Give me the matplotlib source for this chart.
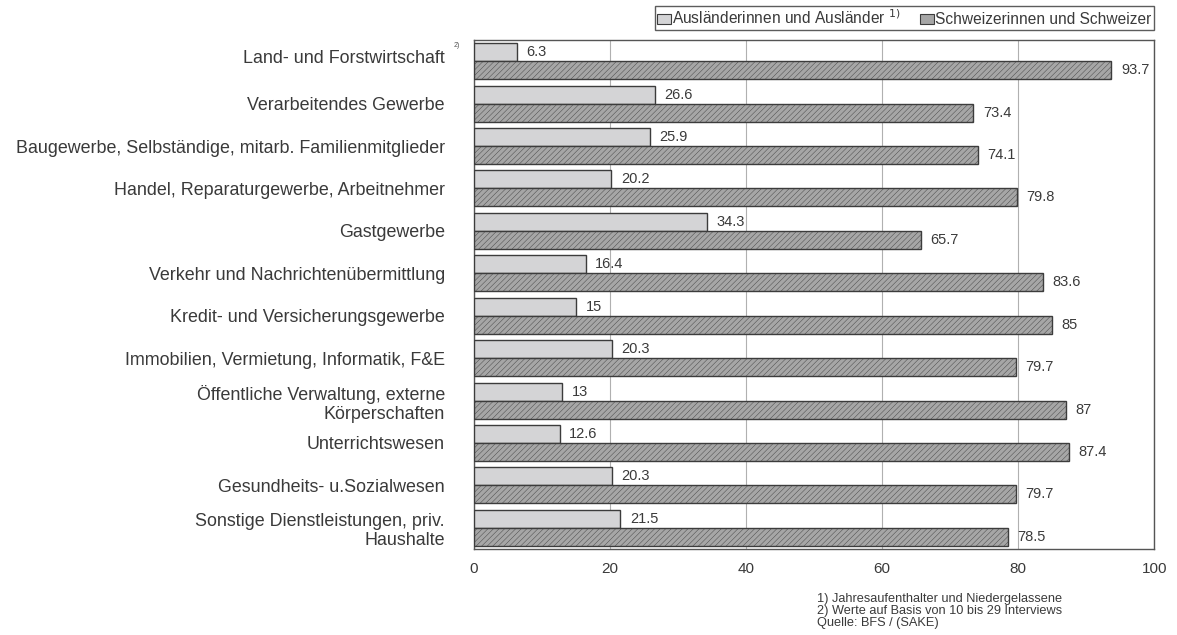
import numpy as np
import matplotlib
matplotlib.use("Agg")
import matplotlib.pyplot as plt
import matplotlib.transforms as mtransforms
from matplotlib.patches import Patch

plt.rcParams["font.family"] = ["Liberation Sans", "DejaVu Sans"]
plt.rcParams["hatch.color"] = "#9a9a9a"
plt.rcParams["hatch.linewidth"] = 0.3

categories = [
    "Land- und Forstwirtschaft",
    "Verarbeitendes Gewerbe",
    "Baugewerbe, Selbständige, mitarb. Familienmitglieder",
    "Handel, Reparaturgewerbe, Arbeitnehmer",
    "Gastgewerbe",
    "Verkehr und Nachrichtenübermittlung",
    "Kredit- und Versicherungsgewerbe",
    "Immobilien, Vermietung, Informatik, F&E",
    "Öffentliche Verwaltung, externe\nKörperschaften",
    "Unterrichtswesen",
    "Gesundheits- u.Sozialwesen",
    "Sonstige Dienstleistungen, priv.\nHaushalte",
]
auslaender = [6.3, 26.6, 25.9, 20.2, 34.3, 16.4, 15, 20.3, 13, 12.6, 20.3, 21.5]
schweizer = [93.7, 73.4, 74.1, 79.8, 65.7, 83.6, 85, 79.7, 87, 87.4, 79.7, 78.5]
xticks = [0, 20, 40, 60, 80, 100]

fig = plt.figure(figsize=(11.77, 6.35), dpi=100)
ax = fig.add_axes([0.4027, 0.1354, 0.578, 0.8016])

n = len(categories)
y = np.arange(n)
h = 0.425
light = "#d4d4d6"
dark = "#a6a6a6"
edge = "#3c3c3c"
txt = "#3a3a3a"

ax.barh(y - h / 2, auslaender, height=h, color=light, edgecolor=edge, linewidth=1.0, zorder=3)
ax.barh(y + h / 2, schweizer, height=h, color=dark, edgecolor=edge, linewidth=1.0,
        hatch="//////", zorder=3)

for yi, a, s in zip(y, auslaender, schweizer):
    ax.text(a + 1.4, yi - h / 2, f"{a:g}", va="center", ha="left", fontsize=10.5, color=txt)
    ax.text(s + 1.4, yi + h / 2, f"{s:g}", va="center", ha="left", fontsize=10.5, color=txt)

ax.set_xlim(0, 100)
ax.set_ylim(n - 0.5, -0.5)
ax.set_xticks(xticks)
ax.set_xticklabels([str(t) for t in xticks], fontsize=11, color=txt)
ax.set_yticks(y)
ax.set_yticklabels(categories, fontsize=12.9, color=txt, linespacing=1.15)
ax.tick_params(axis="y", length=0, pad=21)
ax.tick_params(axis="x", length=0, pad=9)
# first label sits a little higher in the original
first = ax.get_yticklabels()[0]
first.set_transform(first.get_transform() +
                    mtransforms.ScaledTranslation(0, 5 / 100, fig.dpi_scale_trans))
ax.grid(axis="x", color="#b0b0b0", linewidth=0.8, zorder=0)
for sp in ax.spines.values():
    sp.set_color("#555555")
    sp.set_linewidth(1.0)

ax.text(-0.02, 0.996, "2)", transform=ax.transAxes, fontsize=5, color="#555555",
        ha="right", va="top")

handles = [Patch(facecolor=light, edgecolor=edge, linewidth=0.8),
           Patch(facecolor=dark, edgecolor=edge, linewidth=0.8)]
labels = ["Ausländerinnen und Ausländer $^{1)}$", "Schweizerinnen und Schweizer"]
leg = fig.legend(handles, labels, loc="upper right", bbox_to_anchor=(0.983, 0.995), ncol=2,
                 fontsize=11.2, frameon=True, fancybox=False, handlelength=0.9, handleheight=0.6,
                 handletextpad=0.1, columnspacing=1.2, borderpad=0.15, borderaxespad=0.2)
leg.get_frame().set_edgecolor("#333333")
leg.get_frame().set_linewidth(1.0)
for t in leg.get_texts():
    t.set_color(txt)

foot = ("1) Jahresaufenthalter und Niedergelassene\n"
        "2) Werte auf Basis von 10 bis 29 Interviews\n"
        "Quelle: BFS / (SAKE)")
fig.text(0.694, 0.038, foot, fontsize=9.2, color=txt, va="center", ha="left", linespacing=1.0)

fig.savefig("out.png", dpi=100)
